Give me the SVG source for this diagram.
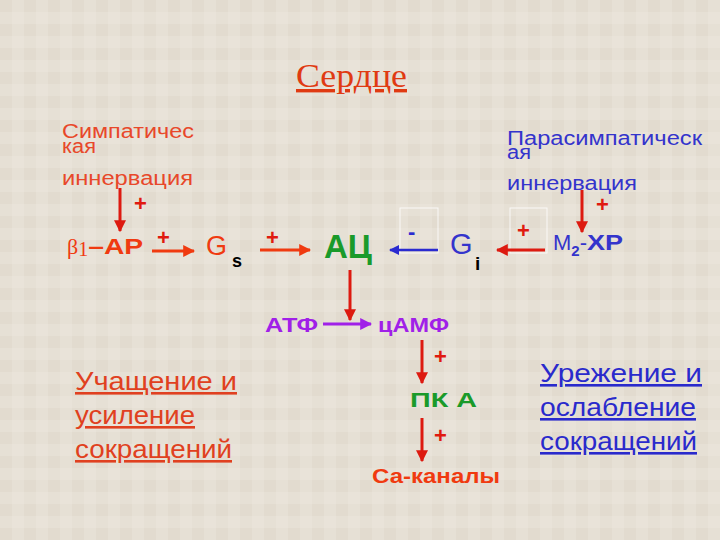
<svg xmlns="http://www.w3.org/2000/svg" width="720" height="540" viewBox="0 0 720 540">
<defs>
<marker id="hr" viewBox="0 0 10 10" refX="9" refY="5" markerWidth="4" markerHeight="4" orient="auto" markerUnits="strokeWidth"><path d="M0,0 L10,5 L0,10 z" fill="#dd1a10"/></marker>
<marker id="ho" viewBox="0 0 10 10" refX="9" refY="5" markerWidth="4" markerHeight="4" orient="auto" markerUnits="strokeWidth"><path d="M0,0 L10,5 L0,10 z" fill="#f03a10"/></marker>
<marker id="hb" viewBox="0 0 10 10" refX="9" refY="5" markerWidth="4" markerHeight="4" orient="auto" markerUnits="strokeWidth"><path d="M0,0 L10,5 L0,10 z" fill="#2a2ad0"/></marker>
<marker id="hp" viewBox="0 0 10 10" refX="9" refY="5" markerWidth="4" markerHeight="4" orient="auto" markerUnits="strokeWidth"><path d="M0,0 L10,5 L0,10 z" fill="#a020e8"/></marker>
<pattern id="bg" width="24" height="24" patternUnits="userSpaceOnUse">
<rect width="24" height="24" fill="#e6e0d5"/>
<rect x="0" y="0" width="12" height="12" fill="#e2dbcf"/>
<rect x="12" y="12" width="12" height="12" fill="#e9e3d9"/>
</pattern>
</defs>
<style>
text{font-family:"Liberation Sans",Arial,sans-serif}
.sym{fill:#e8482a;font-size:20px}
.par{fill:#3434cc;font-size:20px}
.plus{fill:#e01a10;font-size:22px;font-weight:bold}
.cl{stroke:#dd1a10;stroke-width:3;fill:none;marker-end:url(#hr)}
.co{stroke:#f03a10;stroke-width:3;fill:none;marker-end:url(#ho)}
.cb{stroke:#2a2ad0;stroke-width:2.5;fill:none;marker-end:url(#hb)}
.cp{stroke:#a020e8;stroke-width:3;fill:none;marker-end:url(#hp)}
.box{fill:none;stroke:#ffffff;stroke-width:1;opacity:0.8}
.eff{font-size:26px;text-decoration:underline}
</style>
<rect width="720" height="540" fill="url(#bg)"/>

<g id="title"><text x="296" y="87" textLength="111" lengthAdjust="spacingAndGlyphs" style="font-family:'Liberation Serif','Times New Roman',serif;font-size:34px;fill:#e03a12;text-decoration:underline">Сердце</text></g>

<g id="symp">
<text class="sym" x="62" y="138" textLength="132" lengthAdjust="spacingAndGlyphs">Симпатичес</text>
<text class="sym" x="62" y="153" textLength="34" lengthAdjust="spacingAndGlyphs">кая</text>
<text class="sym" x="62" y="185" textLength="131" lengthAdjust="spacingAndGlyphs">иннервация</text>
</g>

<g id="parasymp">
<text class="par" x="507" y="145" textLength="195" lengthAdjust="spacingAndGlyphs">Парасимпатическ</text>
<text class="par" x="507" y="159" textLength="24" lengthAdjust="spacingAndGlyphs">ая</text>
<text class="par" x="507" y="190" textLength="130" lengthAdjust="spacingAndGlyphs">иннервация</text>
</g>

<g id="beta1">
<text x="67" y="254" style="fill:#f03a10;font-size:22px"><tspan style="font-family:'Liberation Serif',serif">β</tspan><tspan style="font-family:'Liberation Serif',serif;font-size:20px" dy="2">1</tspan><tspan dy="-2" style="font-weight:bold" textLength="55" lengthAdjust="spacingAndGlyphs">–АР</tspan></text>
</g>

<g id="gs">
<text x="206" y="255" style="fill:#f03a10;font-size:27px">G</text>
<text x="232" y="267" style="fill:#000;font-size:18px;font-weight:bold">s</text>
</g>

<g id="ac"><text x="324" y="258" textLength="48" lengthAdjust="spacingAndGlyphs" style="fill:#1a9a2a;font-size:33px;font-weight:bold">АЦ</text></g>

<g id="gi">
<text x="450" y="254" style="fill:#3434cc;font-size:29px">G</text>
<text x="475" y="270" style="fill:#000;font-size:19px;font-weight:bold">i</text>
</g>

<g id="m2">
<text x="553" y="250" style="fill:#3434cc;font-size:22px">M<tspan dy="6" style="font-size:15px;font-weight:bold">2</tspan><tspan dy="-6">-</tspan><tspan style="font-weight:bold" textLength="36" lengthAdjust="spacingAndGlyphs">ХР</tspan></text>
</g>

<g id="atf"><text x="265" y="332" textLength="53" lengthAdjust="spacingAndGlyphs" style="fill:#a020e8;font-size:21px;font-weight:bold">АТФ</text></g>
<g id="camp"><text x="378" y="332" textLength="71" lengthAdjust="spacingAndGlyphs" style="fill:#a020e8;font-size:21px;font-weight:bold">цАМФ</text></g>
<g id="pka"><text x="410" y="407" textLength="67" lengthAdjust="spacingAndGlyphs" style="fill:#1a9a2a;font-size:21px;font-weight:bold">ПК А</text></g>
<g id="ca"><text x="372" y="483" textLength="128" lengthAdjust="spacingAndGlyphs" style="fill:#f03a10;font-size:21px;font-weight:bold">Са-каналы</text></g>

<g id="effect-symp" style="fill:#e04020">
<text class="eff" x="75" y="390" textLength="162" lengthAdjust="spacingAndGlyphs">Учащение  и</text>
<text class="eff" x="75" y="424" textLength="120" lengthAdjust="spacingAndGlyphs">усиление</text>
<text class="eff" x="75" y="458" textLength="157" lengthAdjust="spacingAndGlyphs">сокращений</text>
</g>

<g id="effect-par" style="fill:#2a2acc">
<text class="eff" x="540" y="382" textLength="162" lengthAdjust="spacingAndGlyphs">Урежение  и</text>
<text class="eff" x="540" y="416" textLength="156" lengthAdjust="spacingAndGlyphs">ослабление</text>
<text class="eff" x="540" y="450" textLength="157" lengthAdjust="spacingAndGlyphs">сокращений</text>
</g>

<g id="connectors">
<line class="cl" x1="120" y1="188" x2="120" y2="231"/>
<text class="plus" x="134" y="211">+</text>
<line class="co" x1="152" y1="251" x2="194" y2="251"/>
<text class="plus" x="157" y="245">+</text>
<line class="co" x1="260" y1="250" x2="310" y2="250"/>
<text class="plus" x="266" y="245">+</text>
<line class="cl" x1="350" y1="270" x2="350" y2="320"/>
<rect class="box" x="400" y="208" width="38" height="45"/>
<text x="408" y="239" style="fill:#2a2ad0;font-size:22px;font-weight:bold">-</text>
<line class="cb" x1="438" y1="250" x2="390" y2="250"/>
<rect class="box" x="510" y="208" width="37" height="45"/>
<text class="plus" x="517" y="238">+</text>
<line class="cl" x1="545" y1="250" x2="497" y2="250"/>
<line class="cl" x1="582" y1="190" x2="582" y2="232"/>
<text class="plus" x="596" y="212">+</text>
<line class="cp" x1="323" y1="324" x2="371" y2="324"/>
<line class="cl" x1="422" y1="340" x2="422" y2="383"/>
<text class="plus" x="434" y="364">+</text>
<line class="cl" x1="422" y1="418" x2="422" y2="461"/>
<text class="plus" x="434" y="443">+</text>
</g>
</svg>
